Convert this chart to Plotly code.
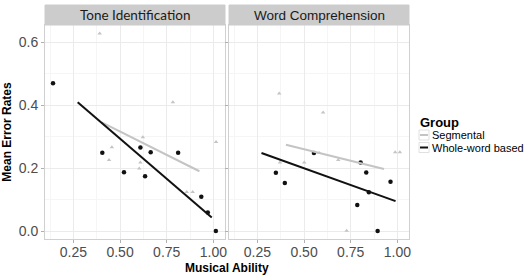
import plotly.graph_objects as go

# ---- data ----
panels = ["Tone Identification", "Word Comprehension"]

tone_seg_x = [0.391, 0.456, 0.441, 0.622, 0.609, 0.603, 0.783, 0.857, 0.889, 1.014]
tone_seg_y = [0.627, 0.266, 0.226, 0.298, 0.218, 0.199, 0.409, 0.124, 0.124, 0.283]
tone_whole_x = [0.141, 0.405, 0.521, 0.609, 0.634, 0.664, 0.811, 0.935, 0.970, 1.013]
tone_whole_y = [0.469, 0.249, 0.187, 0.265, 0.174, 0.250, 0.249, 0.109, 0.059, 0.000]
tone_seg_fit_x = [0.402, 0.925]
tone_seg_fit_y = [0.345, 0.190]
tone_whole_fit_x = [0.273, 0.991]
tone_whole_fit_y = [0.409, 0.043]

word_seg_x = [0.367, 0.602, 0.371, 0.501, 0.581, 0.683, 0.728, 0.988, 1.013]
word_seg_y = [0.437, 0.376, 0.218, 0.218, 0.248, 0.226, 0.001, 0.250, 0.250]
word_whole_x = [0.349, 0.397, 0.553, 0.803, 0.833, 0.785, 0.847, 0.894, 0.963]
word_whole_y = [0.185, 0.153, 0.248, 0.218, 0.186, 0.083, 0.123, 0.000, 0.157]
word_seg_fit_x = [0.403, 0.928]
word_seg_fit_y = [0.274, 0.197]
word_whole_fit_x = [0.272, 0.990]
word_whole_fit_y = [0.248, 0.095]

groups = ["Segmental", "Whole-word based"]
x_ticks = [0.25, 0.50, 0.75, 1.00]
x_tick_labels = ["0.25", "0.50", "0.75", "1.00"]
y_ticks = [0.0, 0.2, 0.4, 0.6]
y_tick_labels = ["0.0", "0.2", "0.4", "0.6"]

SEG_COL = "#c4c4c4"
WHOLE_COL = "#111111"
FONT = "Liberation Sans, Arial"

fig = go.Figure()

def add_panel(xa, ya, sx, sy, wx, wy, sfx, sfy, wfx, wfy):
    fig.add_trace(go.Scatter(x=sx, y=sy, mode="markers", xaxis=xa, yaxis=ya,
                             marker=dict(color=SEG_COL, size=4, symbol="triangle-up"),
                             showlegend=False, hoverinfo="skip"))
    fig.add_trace(go.Scatter(x=wx, y=wy, mode="markers", xaxis=xa, yaxis=ya,
                             marker=dict(color=WHOLE_COL, size=4.5),
                             showlegend=False, hoverinfo="skip"))
    fig.add_trace(go.Scatter(x=sfx, y=sfy, mode="lines", xaxis=xa, yaxis=ya,
                             line=dict(color=SEG_COL, width=2),
                             name=groups[0], showlegend=False))
    fig.add_trace(go.Scatter(x=wfx, y=wfy, mode="lines", xaxis=xa, yaxis=ya,
                             line=dict(color=WHOLE_COL, width=2),
                             name=groups[1], showlegend=False))

add_panel("x", "y", tone_seg_x, tone_seg_y, tone_whole_x, tone_whole_y,
          tone_seg_fit_x, tone_seg_fit_y, tone_whole_fit_x, tone_whole_fit_y)
add_panel("x2", "y2", word_seg_x, word_seg_y, word_whole_x, word_whole_y,
          word_seg_fit_x, word_seg_fit_y, word_whole_fit_x, word_whole_fit_y)

W, H = 526, 276
ml, mr, mt, mb = 45, 117, 5, 37
pw = W - ml - mr
ph = H - mt - mb
gap = 4 / pw
left_dom = [0, 0.5 - gap / 2]
right_dom = [0.5 + gap / 2, 1]
strip_h = 20 / ph
ydom = [0, 1 - strip_h]

def px_x(p):
    return (p - ml) / pw

def px_y(p):
    return (H - mb - p) / ph

xr = [0.098, 1.062]
yr = [-0.025, 0.654]

axis_common = dict(
    showgrid=True, gridcolor="#ebebeb", gridwidth=1,
    showline=True, linecolor="#d0d0d0", linewidth=1, mirror=True,
    ticks="outside", ticklen=3, tickcolor="#b0b0b0",
    tickfont=dict(family=FONT, size=14, color="#4d4d4d"),
    zeroline=False,
)
xminor = dict(dtick=0.125, showgrid=True, gridcolor="#f5f5f5", ticks="")
yminor = dict(dtick=0.1, showgrid=True, gridcolor="#f5f5f5", ticks="")

fig.update_layout(
    width=W, height=H,
    margin=dict(l=ml, r=mr, t=mt, b=mb),
    paper_bgcolor="white", plot_bgcolor="white",
    showlegend=False,
    xaxis=dict(domain=left_dom, range=xr, tickvals=x_ticks, ticktext=x_tick_labels,
               minor=xminor, anchor="y", ticklabelstandoff=-3, **axis_common),
    xaxis2=dict(domain=right_dom, range=xr, tickvals=x_ticks, ticktext=x_tick_labels,
                minor=xminor, anchor="y2", ticklabelstandoff=-3, **axis_common),
    yaxis=dict(domain=ydom, range=yr, tickvals=y_ticks, ticktext=y_tick_labels,
               minor=yminor, anchor="x",
               title=dict(text="<b>Mean Error Rates</b>", standoff=5,
                          font=dict(family=FONT, size=12, color="black")),
               **axis_common),
    yaxis2=dict(domain=ydom, range=yr, tickvals=y_ticks, ticktext=[""] * len(y_ticks),
                minor=yminor, anchor="x2", **axis_common),
)

# strips
for dom, label, fam in [(left_dom, panels[0], "Lato, Open Sans"), (right_dom, panels[1], FONT)]:
    fig.add_shape(type="rect", xref="paper", yref="paper",
                  x0=dom[0], x1=dom[1], y0=ydom[1], y1=1,
                  fillcolor="#cccccc", line=dict(color="#cccccc", width=1))
    fig.add_annotation(xref="paper", yref="paper", x=(dom[0] + dom[1]) / 2,
                       y=(ydom[1] + 1) / 2, text=label, showarrow=False,
                       xanchor="center", yanchor="middle",
                       font=dict(family=fam, size=13.5, color="#1a1a1a"))

# x-axis title
fig.add_annotation(xref="paper", yref="paper", x=0.5, y=px_y(268),
                   text="<b>Musical Ability</b>", showarrow=False,
                   xanchor="center", yanchor="middle",
                   font=dict(family=FONT, size=12, color="black"))

# custom legend
fig.add_annotation(xref="paper", yref="paper", x=px_x(418), y=px_y(122),
                   text="<b>Group</b>", showarrow=False, xanchor="left", yanchor="middle",
                   font=dict(family=FONT, size=13, color="black"))
for i, (g, col) in enumerate(zip(groups, [SEG_COL, WHOLE_COL])):
    cy = 135 + 12.5 * i
    fig.add_shape(type="rect", xref="paper", yref="paper",
                  x0=px_x(419), x1=px_x(429), y0=px_y(cy + 5), y1=px_y(cy - 5),
                  fillcolor="white", line=dict(color="#e0e0e0", width=1))
    fig.add_shape(type="line", xref="paper", yref="paper",
                  x0=px_x(420), x1=px_x(428), y0=px_y(cy), y1=px_y(cy),
                  line=dict(color=col, width=2))
    fig.add_annotation(xref="paper", yref="paper", x=px_x(430), y=px_y(cy),
                       text=g, showarrow=False, xanchor="left", yanchor="middle",
                       font=dict(family=FONT, size=11, color="black"))

fig.write_html("out.html", config={"displayModeBar": False},
               post_script="document.body.style.margin='0';")
